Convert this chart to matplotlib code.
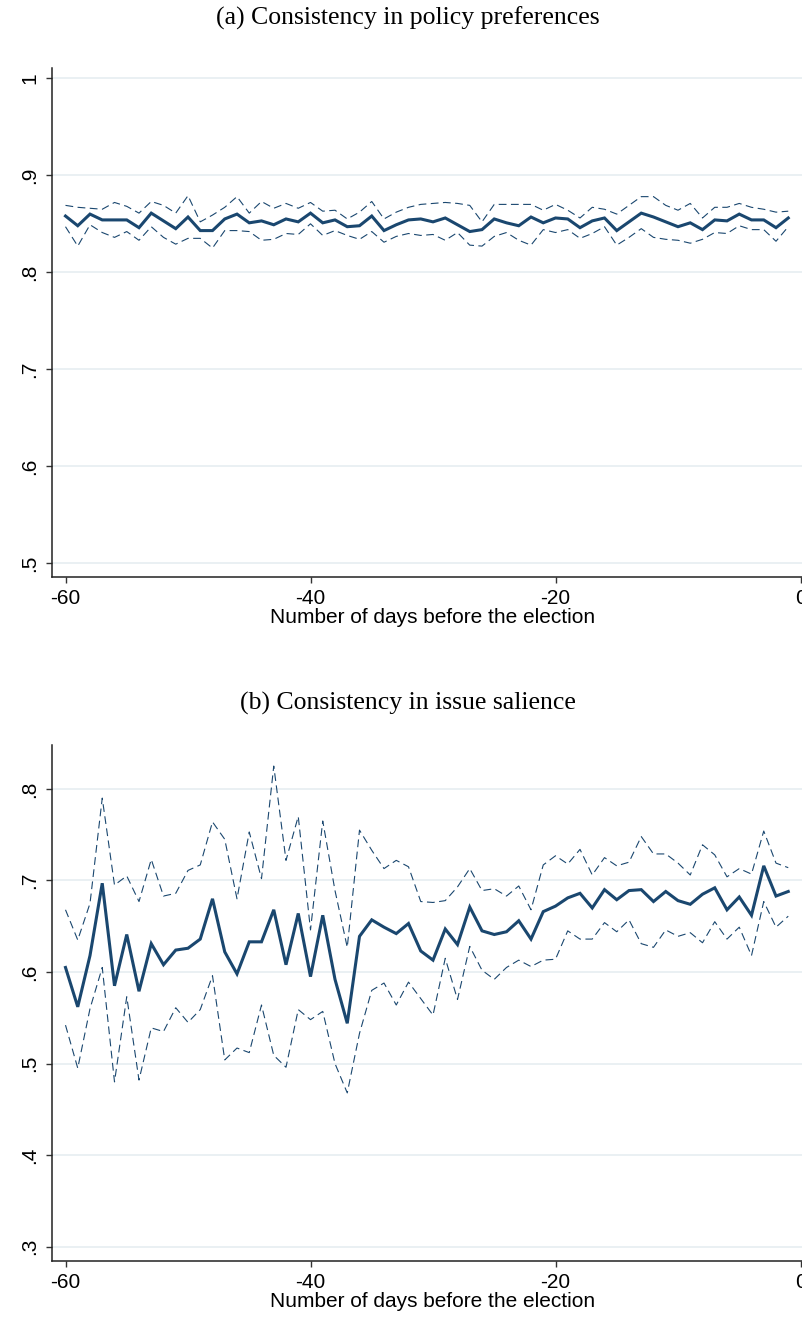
import matplotlib
matplotlib.use('Agg')
import matplotlib.pyplot as plt
import numpy as np

# days before the election
days = list(range(-60, 0))

# (a) consistency in policy preferences
pol_mean = [0.858, 0.848, 0.860, 0.854, 0.854, 0.854, 0.846, 0.861, 0.853, 0.845,
            0.857, 0.843, 0.843, 0.855, 0.860, 0.851, 0.853, 0.849, 0.855, 0.852,
            0.861, 0.851, 0.854, 0.847, 0.848, 0.858, 0.843, 0.849, 0.854, 0.855,
            0.852, 0.856, 0.849, 0.842, 0.844, 0.855, 0.851, 0.848, 0.857, 0.851,
            0.856, 0.855, 0.846, 0.853, 0.856, 0.843, 0.852, 0.861, 0.857, 0.852,
            0.847, 0.851, 0.844, 0.854, 0.853, 0.860, 0.854, 0.854, 0.846, 0.856]
pol_hi = [0.869, 0.867, 0.866, 0.865, 0.872, 0.868, 0.861, 0.873, 0.869, 0.861,
          0.879, 0.852, 0.859, 0.867, 0.878, 0.861, 0.873, 0.866, 0.871, 0.866,
          0.872, 0.863, 0.864, 0.855, 0.862, 0.873, 0.855, 0.862, 0.867, 0.870,
          0.871, 0.872, 0.871, 0.869, 0.852, 0.870, 0.870, 0.870, 0.870, 0.864,
          0.870, 0.864, 0.856, 0.867, 0.865, 0.860, 0.869, 0.878, 0.878, 0.869,
          0.864, 0.871, 0.856, 0.867, 0.867, 0.871, 0.867, 0.865, 0.862, 0.863]
pol_lo = [0.847, 0.827, 0.849, 0.841, 0.836, 0.842, 0.833, 0.847, 0.836, 0.829,
          0.835, 0.835, 0.825, 0.843, 0.843, 0.842, 0.833, 0.834, 0.840, 0.839,
          0.850, 0.838, 0.843, 0.838, 0.834, 0.842, 0.831, 0.837, 0.840, 0.838,
          0.839, 0.833, 0.841, 0.828, 0.827, 0.837, 0.841, 0.833, 0.828, 0.844,
          0.841, 0.844, 0.835, 0.840, 0.847, 0.828, 0.836, 0.845, 0.836, 0.834,
          0.833, 0.830, 0.834, 0.841, 0.840, 0.848, 0.844, 0.844, 0.832, 0.847]

# (b) consistency in issue salience
sal_mean = [0.605, 0.562, 0.618, 0.697, 0.585, 0.641, 0.579, 0.631, 0.608, 0.624,
            0.626, 0.636, 0.680, 0.622, 0.598, 0.633, 0.633, 0.668, 0.608, 0.664,
            0.595, 0.662, 0.592, 0.544, 0.639, 0.657, 0.649, 0.642, 0.653, 0.623,
            0.613, 0.647, 0.630, 0.671, 0.645, 0.641, 0.644, 0.656, 0.636, 0.666,
            0.672, 0.681, 0.686, 0.670, 0.690, 0.679, 0.689, 0.690, 0.677, 0.688,
            0.678, 0.674, 0.685, 0.692, 0.668, 0.682, 0.662, 0.716, 0.683, 0.688]
sal_hi = [0.668, 0.635, 0.675, 0.790, 0.695, 0.705, 0.677, 0.723, 0.683, 0.686,
          0.711, 0.717, 0.764, 0.745, 0.680, 0.753, 0.702, 0.825, 0.722, 0.770,
          0.646, 0.765, 0.689, 0.627, 0.755, 0.733, 0.713, 0.722, 0.715, 0.677,
          0.676, 0.678, 0.693, 0.713, 0.689, 0.691, 0.683, 0.694, 0.668, 0.717,
          0.727, 0.718, 0.734, 0.706, 0.725, 0.716, 0.720, 0.748, 0.729, 0.729,
          0.719, 0.706, 0.739, 0.728, 0.704, 0.713, 0.707, 0.754, 0.719, 0.714]
sal_lo = [0.542, 0.495, 0.560, 0.605, 0.480, 0.573, 0.482, 0.539, 0.535, 0.561,
          0.545, 0.559, 0.596, 0.504, 0.517, 0.512, 0.564, 0.509, 0.496, 0.559,
          0.548, 0.557, 0.500, 0.468, 0.533, 0.580, 0.588, 0.564, 0.589, 0.571,
          0.553, 0.615, 0.570, 0.628, 0.602, 0.592, 0.605, 0.613, 0.606, 0.613,
          0.614, 0.645, 0.636, 0.636, 0.654, 0.644, 0.657, 0.631, 0.627, 0.646,
          0.639, 0.643, 0.632, 0.655, 0.636, 0.649, 0.618, 0.677, 0.649, 0.661]

xticks = [-60, -40, -20, 0]
xlabels = ['-60', '-40', '-20', '0']
a_yticks = [0.5, 0.6, 0.7, 0.8, 0.9, 1.0]
a_ylabels = ['.5', '.6', '.7', '.8', '.9', '1']
b_yticks = [0.3, 0.4, 0.5, 0.6, 0.7, 0.8]
b_ylabels = ['.3', '.4', '.5', '.6', '.7', '.8']

COL = '#1a476f'
GRID = '#e8eff2'
W, H = 802, 1317
LABEL_SIZE = 15

plt.rcParams['font.family'] = ['Liberation Sans', 'DejaVu Sans']
plt.rcParams['axes.unicode_minus'] = False

fig = plt.figure(figsize=(W / 100, H / 100), dpi=100)
fig.patch.set_facecolor('white')

# plot region in pixels
x_left, x_right = 51.7, 814.0
px_per_day = 12.25
x0_pix = 800.5
xmin = -60 - (65.5 - x_left) / px_per_day
xmax = (x_right - x0_pix) / px_per_day


def make_axes(top, bottom):
    return fig.add_axes([x_left / W, 1 - bottom / H, (x_right - x_left) / W, (bottom - top) / H])


def style(ax, yticks, ylabels, ylim):
    ax.set_xlim(xmin, xmax)
    ax.set_ylim(*ylim)
    ax.set_xticks(xticks)
    ax.set_xticklabels(xlabels)
    ax.set_yticks(yticks)
    ax.set_yticklabels(ylabels, rotation=90, va='center')
    for s in ['top', 'right']:
        ax.spines[s].set_visible(False)
    for s in ['left', 'bottom']:
        ax.spines[s].set_linewidth(1.1)
        ax.spines[s].set_color('#222222')
    ax.tick_params(axis='both', direction='out', length=4, width=1.0, color='#333333',
                   labelsize=LABEL_SIZE, pad=5)
    ax.yaxis.grid(True, color=GRID, linewidth=1.3)
    ax.set_axisbelow(True)
    ax.set_xlabel('Number of days before the election', fontsize=LABEL_SIZE, labelpad=0)


def draw(ax, mean, lo, hi):
    ax.plot(days, hi, color=COL, linewidth=0.8, linestyle=(0, (7, 4)))
    ax.plot(days, lo, color=COL, linewidth=0.8, linestyle=(0, (7, 4)))
    ax.plot(days, mean, color=COL, linewidth=2.2, solid_joinstyle='miter')


ax1 = make_axes(68.3, 576.7)
draw(ax1, pol_mean, pol_lo, pol_hi)
style(ax1, a_yticks, a_ylabels, (0.4862, 1.0103))

ax2 = make_axes(745.0, 1260.7)
draw(ax2, sal_mean, sal_lo, sal_hi)
style(ax2, b_yticks, b_ylabels, (0.2847, 0.848))

fig.text(407.5 / W, 1 - 18 / H, '(a) Consistency in policy preferences',
         family='Liberation Serif', fontsize=18.5, ha='center', va='center')
fig.text(408 / W, 1 - 703 / H, '(b) Consistency in issue salience',
         family='Liberation Serif', fontsize=18.5, ha='center', va='center')

plt.savefig('out.png', dpi=100, facecolor='white')
plt.close()
